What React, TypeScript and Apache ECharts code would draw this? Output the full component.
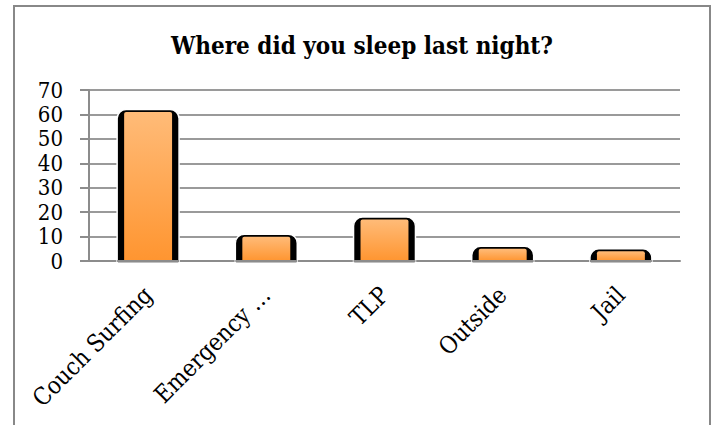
import React, { useEffect, useRef } from "react";
import * as echarts from "echarts";

const categories = ["Couch Surfing", "Emergency …", "TLP", "Outside", "Jail"];
const values = [62, 11, 18, 6, 5];
const yTicks = { min: 0, max: 70, interval: 10 };
const titleText = "Where did you sleep last night?";

export default function App() {
  const ref = useRef<HTMLDivElement>(null);
  useEffect(() => {
    if (!ref.current) return;
    const chart = echarts.init(ref.current, null, { renderer: "svg" });
    const font = "'DejaVu Serif Condensed', 'DejaVu Serif', serif";
    chart.setOption({
      animation: false,
      backgroundColor: "#fff",
      title: {
        text: titleText,
        left: 357,
        textAlign: "center",
        top: 28,
        textStyle: { fontFamily: font, fontSize: 24, fontWeight: "bold", color: "#000" },
      },
      graphic: [
        {
          type: "rect",
          shape: { x: 14, y: 6, width: 696, height: 440 },
          style: { fill: "none", stroke: "#888", lineWidth: 2 },
          z: 100,
        },
      ],
      grid: { left: 89, right: 35, top: 90, bottom: 164, containLabel: false },
      xAxis: {
        type: "category",
        data: categories,
        axisLine: { show: true, lineStyle: { color: "#8c8c8c", width: 2 } },
        axisTick: { show: false },
        axisLabel: {
          rotate: 45,
          interval: 0,
          margin: 30,
          fontFamily: font,
          fontSize: 24,
          color: "#000",
        },
      },
      yAxis: {
        type: "value",
        min: yTicks.min,
        max: yTicks.max,
        interval: yTicks.interval,
        axisLine: { show: true, lineStyle: { color: "#8c8c8c", width: 2 } },
        axisTick: { show: true, length: 9, lineStyle: { color: "#8c8c8c", width: 2 } },
        splitLine: { show: true, lineStyle: { color: "#9a9a9a", width: 2 } },
        axisLabel: { margin: 26, fontFamily: font, fontSize: 22, color: "#000" },
      },
      series: [
        {
          type: "custom",
          data: values.map((v, i) => [i, v]),
          encode: { x: 0, y: 1 },
          renderItem: (params: any, api: any) => {
            const idx = api.value(0);
            const val = api.value(1);
            const base = api.coord([idx, 0]);
            const top = api.coord([idx, val]);
            const band = api.size([1, 0])[0];
            const w = band * 0.524;
            const x0 = base[0] - w / 2;
            const h = base[1] - top[1];
            const side = 7;
            return {
              type: "group",
              children: [
                {
                  type: "rect",
                  shape: { x: x0, y: top[1], width: w, height: h + 2, r: [9, 9, 0, 0] },
                  style: { fill: "#000", stroke: "#fff", lineWidth: 1.5 },
                },
                {
                  type: "rect",
                  shape: { x: x0 + side, y: top[1] + 2.5, width: w - 2 * side, height: h - 2.5, r: [2, 2, 0, 0] },
                  style: {
                    fill: new echarts.graphic.LinearGradient(0, 0, 0, 1, [
                      { offset: 0, color: "#ffbb78" },
                      { offset: 1, color: "#ff9530" },
                    ]),
                  },
                },
                {
                  type: "line",
                  shape: { x1: x0, y1: base[1], x2: x0 + w, y2: base[1] },
                  style: { stroke: "#8c8c8c", lineWidth: 2 },
                },
              ],
            };
          },
        },
      ],
    });
    return () => chart.dispose();
  }, []);
  return (
    <div style={{ position: "fixed", left: 0, top: 0, width: 715, height: 425, background: "#fff" }}>
      <div ref={ref} style={{ width: 715, height: 425 }} />
    </div>
  );
}
